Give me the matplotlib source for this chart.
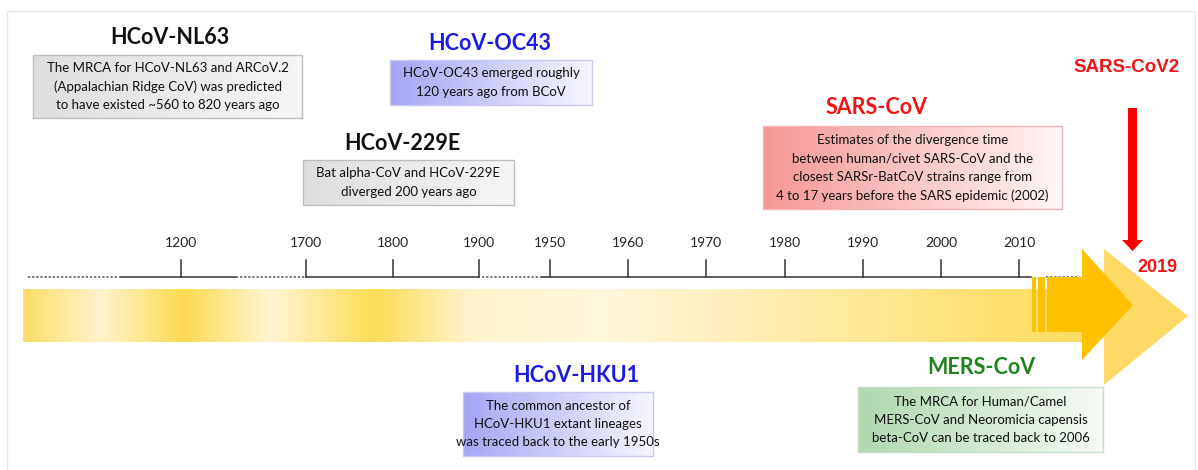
import numpy as np
import matplotlib.pyplot as plt
from matplotlib.patches import Rectangle, Polygon

plt.rcParams['font.family'] = ['Lato', 'DejaVu Sans']

# timeline ticks (broken axis, three segments)
tick_years = [1200, 1700, 1800, 1900, 1950, 1960, 1970, 1980, 1990, 2000, 2010]
seg_years = [(1130, 1265), (1700, 1900), (1949, 2011.5)]
seg_px = [(120, 237), (306, 479), (542, 1031)]
dotted_px = [(28, 118), (240, 305), (482, 542), (1046, 1077)]

# gradient of the yellow band: x position (px) -> colour
band_x = [23, 100, 183, 270, 373, 470, 600, 800, 1000, 1083]
band_rgb = [(253, 222, 105), (255, 244, 205), (253, 218, 80), (255, 246, 212),
            (253, 220, 85), (255, 244, 205), (255, 247, 222), (255, 236, 168),
            (255, 224, 112), (255, 220, 100)]

# virus boxes
names = ["HCoV-NL63", "HCoV-OC43", "HCoV-229E", "SARS-CoV", "HCoV-HKU1", "MERS-CoV"]
title_colors = ["#111111", "#1a1ae6", "#111111", "#f01414", "#1a1ae6", "#1e821e"]
box_left = [(222, 222, 222), (165, 165, 245), (222, 222, 222), (246, 150, 150), (165, 165, 245), (175, 215, 175)]
box_right = [(246, 246, 246), (246, 246, 255), (246, 246, 246), (255, 246, 246), (246, 246, 255), (246, 251, 246)]
box_edge = ["#bdbdbd", "#c8c8f2", "#bdbdbd", "#f4b4b4", "#c8c8f2", "#c6dfc6"]
box_geom = [(33, 55, 302, 118), (390, 60, 592, 105), (303, 160, 514, 205),
            (763, 126, 1062, 209), (463, 392, 653, 456), (858, 387, 1103, 452)]
title_pos = [(170, 38), (490, 44), (402, 144), (877, 107), (576, 376), (981, 367)]
box_text = [
    ["The MRCA for HCoV-NL63 and ARCoV.2", "(Appalachian Ridge CoV) was predicted",
     "to have existed ~560 to 820 years ago"],
    ["HCoV-OC43 emerged roughly", "120 years ago from BCoV"],
    ["Bat alpha-CoV and HCoV-229E", "diverged 200 years ago"],
    ["Estimates of the divergence time", "between human/civet SARS-CoV and the",
     "closest SARSr-BatCoV strains range from", "4 to 17 years before the SARS epidemic (2002)"],
    ["The common ancestor of", "HCoV-HKU1 extant lineages", "was traced back to the early 1950s"],
    ["The MRCA for Human/Camel", "MERS-CoV and Neoromicia capensis", "beta-CoV can be traced back to 2006"],
]


def year_to_x(year):
    for (y0, y1), (p0, p1) in zip(seg_years, seg_px):
        if y0 <= year <= y1:
            return np.interp(year, [y0, y1], [p0, p1])
    return None


def hgrad(ax, x0, y0, x1, y1, xs, cols, z=1):
    px = np.linspace(x0, x1, 400)
    c = np.array(cols, dtype=float) / 255
    img = np.stack([np.interp(px, xs, c[:, k]) for k in range(3)], axis=-1)
    ax.imshow(img[None, :, :], extent=(x0, x1, y1, y0), aspect='auto',
              interpolation='bilinear', zorder=z)


fig = plt.figure(figsize=(11.98, 4.70), dpi=100)
ax = fig.add_axes([0, 0, 1, 1])
ax.set_xlim(0, 1198)
ax.set_ylim(470, 0)
ax.axis('off')

# faint frame
ax.plot([7, 7, 1195, 1195], [470, 11, 11, 470], color='#e6e6e6', lw=1, zorder=0)

# axis line and ticks
for p0, p1 in seg_px:
    ax.plot([p0, p1], [277, 277], color='#333333', lw=1.1, zorder=3)
for p0, p1 in dotted_px:
    ax.plot([p0, p1], [277, 277], color='#555555', lw=1.1, ls=(0, (1.5, 1.2)), zorder=3)
for yr in tick_years:
    x = year_to_x(yr)
    ax.plot([x, x], [260, 277], color='#333333', lw=1.1, zorder=3)
    ax.text(x, 243, str(yr), ha='center', va='center', fontsize=10, color='#222222')

# yellow band (body of the big arrow)
hgrad(ax, 23, 289, 1083, 342, band_x, band_rgb, z=2)

# light arrow head (behind)
ax.add_patch(Polygon([(1104, 249), (1188, 316), (1104, 385)], closed=True,
                     facecolor='#ffd966', edgecolor='none', zorder=2))
# dark arrow
for a, b in [(1032, 1036), (1038, 1045), (1047, 1083)]:
    ax.add_patch(Rectangle((a, 277), b - a, 55, facecolor='#ffc000', edgecolor='none', zorder=4))
ax.add_patch(Polygon([(1082, 249), (1133, 305), (1082, 360)], closed=True,
                     facecolor='#ffc000', edgecolor='none', zorder=4))

# SARS-CoV2 red arrow
ax.add_patch(Rectangle((1128, 108), 9, 133, facecolor='#ff0000', edgecolor='none', zorder=5))
ax.add_patch(Polygon([(1122, 240), (1143, 240), (1132.5, 251)], closed=True,
                     facecolor='#ff0000', edgecolor='none', zorder=5))
ax.text(1127, 68, "SARS-CoV2", ha='center', va='center', fontsize=13.5, fontweight='bold',
        color='#f01414', family=['Liberation Sans', 'DejaVu Sans'])
ax.text(1157, 268, "2019", ha='center', va='center', fontsize=13, fontweight='bold',
        color='#f01414', family=['Liberation Sans', 'DejaVu Sans'])

# text boxes
for i, name in enumerate(names):
    x0, y0, x1, y1 = box_geom[i]
    hgrad(ax, x0, y0, x1, y1, [x0, x1], [box_left[i], box_right[i]], z=2)
    ax.add_patch(Rectangle((x0, y0), x1 - x0, y1 - y0, facecolor='none',
                           edgecolor=box_edge[i], lw=1, zorder=3))
    tx, ty = title_pos[i]
    ax.text(tx, ty, name, ha='center', va='center', fontsize=15.5, fontweight='bold',
            color=title_colors[i], zorder=6)
    lines = box_text[i]
    pitch = 18.5
    cy = (y0 + y1) / 2
    for k, line in enumerate(lines):
        ly = cy + (k - (len(lines) - 1) / 2) * pitch
        ax.text((x0 + x1) / 2, ly, line, ha='center', va='center', fontsize=9.5,
                color='#111111', zorder=6)

fig.savefig('out.png', dpi=100)
